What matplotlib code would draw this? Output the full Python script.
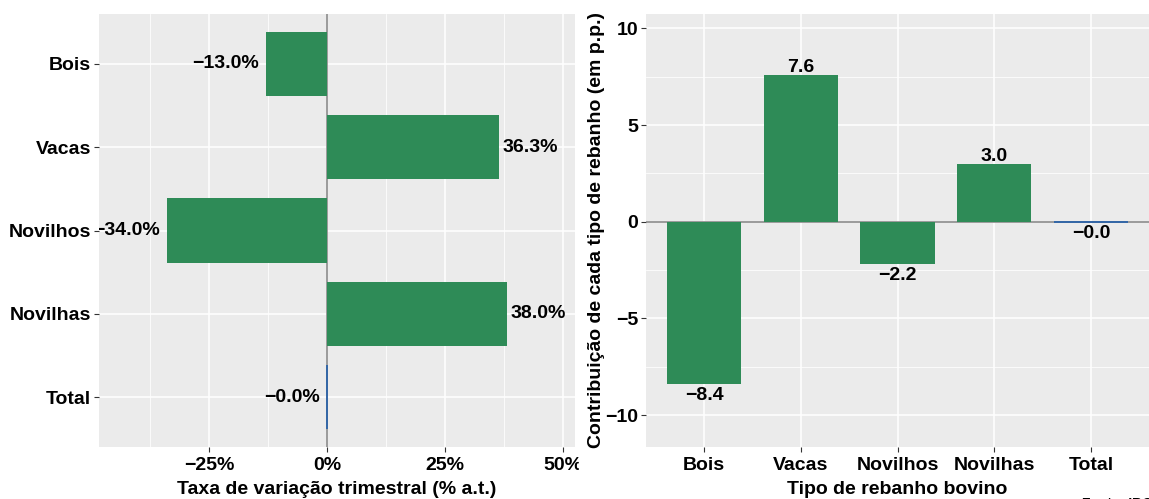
"""Variação trimestral do rebanho bovino e contribuição por tipo."""

import matplotlib.pyplot as plt
from matplotlib.patches import Rectangle
from matplotlib.ticker import FuncFormatter

# Dados
categorias = ["Bois", "Vacas", "Novilhos", "Novilhas", "Total"]
taxa_variacao = [-13.0, 36.3, -34.0, 38.0, -0.02]      # % a.t.
contribuicao = [-8.4, 7.6, -2.2, 3.0, -0.02]           # p.p.
cores = ["#2E8B57", "#2E8B57", "#2E8B57", "#2E8B57", "#2B62A8"]

x_ticks_esq = [-25, 0, 25, 50]
x_minor_esq = [-37.5, -12.5, 12.5, 37.5]
y_ticks_dir = [-10, -5, 0, 5, 10]
y_minor_dir = [-7.5, -2.5, 2.5, 7.5]

plt.rcParams["font.family"] = ["Liberation Sans", "DejaVu Sans"]
plt.rcParams["font.weight"] = "bold"
plt.rcParams["axes.unicode_minus"] = True

FS = 14
PANEL = "#EBEBEB"
ZERO = "#808080"
W, H = 1149, 499


def menos(s):
    return s.replace("-", "\u2212")


def estilo(ax):
    ax.set_facecolor(PANEL)
    for s in ax.spines.values():
        s.set_visible(False)
    ax.tick_params(which="major", length=3.5, width=0.8, color="#333333",
                   labelsize=FS, labelcolor="black", pad=2)
    ax.tick_params(which="minor", length=0)
    ax.grid(which="major", color="white", linewidth=1.1)
    ax.grid(which="minor", color="white", linewidth=0.55)
    ax.set_axisbelow(True)


fig = plt.figure(figsize=(W / 100, H / 100), dpi=100)
top, bottom = 1 - 14 / H, 1 - 447 / H
ax1 = fig.add_axes([99 / W, bottom, (575 - 99) / W, top - bottom], zorder=0)
ax2 = fig.add_axes([646 / W, bottom, (W - 646) / W, top - bottom], zorder=2)

# ---- Painel esquerdo: taxa de variação ----
estilo(ax1)
pos = list(range(len(categorias)))
ax1.axvline(0, color=ZERO, linewidth=1.1, zorder=1)
ax1.barh(pos, taxa_variacao, height=0.77, color=cores, edgecolor=cores,
         linewidth=[0, 0, 0, 0, 1.3], zorder=2)
for p, v in zip(pos, taxa_variacao):
    txt = menos(f"{v:.1f}%")
    if v < 0:
        ax1.annotate(txt, (v, p), xytext=(-5, 0), textcoords="offset points",
                     ha="right", va="center", fontsize=FS, fontweight="bold",
                     annotation_clip=False, clip_on=True)
    else:
        ax1.annotate(txt, (v, p), xytext=(3, 0), textcoords="offset points",
                     ha="left", va="center", fontsize=FS, fontweight="bold",
                     clip_on=True)
ax1.set_xlim(-48.3, 52.5)
ax1.set_ylim(len(categorias) - 0.4, -0.6)
ax1.set_xticks(x_ticks_esq)
ax1.set_xticks(x_minor_esq, minor=True)
ax1.xaxis.set_major_formatter(FuncFormatter(lambda v, _: menos(f"{v:.0f}%")))
ax1.set_yticks(pos)
ax1.set_yticklabels(categorias)
ax1.tick_params(axis="x", pad=4)
ax1.set_xlabel("Taxa de variação trimestral (% a.t.)", fontsize=FS,
               fontweight="bold", labelpad=5)

# cobre a parte de "50%" que fica sob o painel direito
fig.add_artist(Rectangle((579 / W, 0), (646 - 579) / W, 1,
                         transform=fig.transFigure, color="white", zorder=1))

# ---- Painel direito: contribuição ----
estilo(ax2)
ax2.axhline(0, color=ZERO, linewidth=1.1, zorder=1)
ax2.bar(pos, contribuicao, width=0.77, color=cores, edgecolor=cores,
        linewidth=[0, 0, 0, 0, 1.3], zorder=2)
for p, v in zip(pos, contribuicao):
    txt = menos(f"{v:.1f}")
    if v < 0:
        ax2.annotate(txt, (p, v), xytext=(0, -2), textcoords="offset points",
                     ha="center", va="top", fontsize=FS, fontweight="bold")
    else:
        ax2.annotate(txt, (p, v), xytext=(0, -1), textcoords="offset points",
                     ha="center", va="bottom", fontsize=FS, fontweight="bold")
ax2.set_xlim(-0.6, len(categorias) - 0.4)
ax2.set_ylim(-11.65, 10.74)
ax2.set_yticks(y_ticks_dir)
ax2.set_yticks(y_minor_dir, minor=True)
ax2.yaxis.set_major_formatter(FuncFormatter(lambda v, _: menos(f"{v:.0f}")))
ax2.set_xticks(pos)
ax2.set_xticklabels(categorias)
ax2.tick_params(axis="x", pad=4)
ax2.set_xlabel("Tipo de rebanho bovino", fontsize=FS, fontweight="bold",
               labelpad=5)
ax2.set_ylabel("Contribuição de cada tipo de rebanho (em p.p.)", fontsize=FS,
               fontweight="bold", labelpad=0)

fig.text(1082 / W, 1 - 497 / H, "Fonte: IBGE", fontsize=10,
         ha="left", va="top")

fig.savefig("out.png", dpi=100)
